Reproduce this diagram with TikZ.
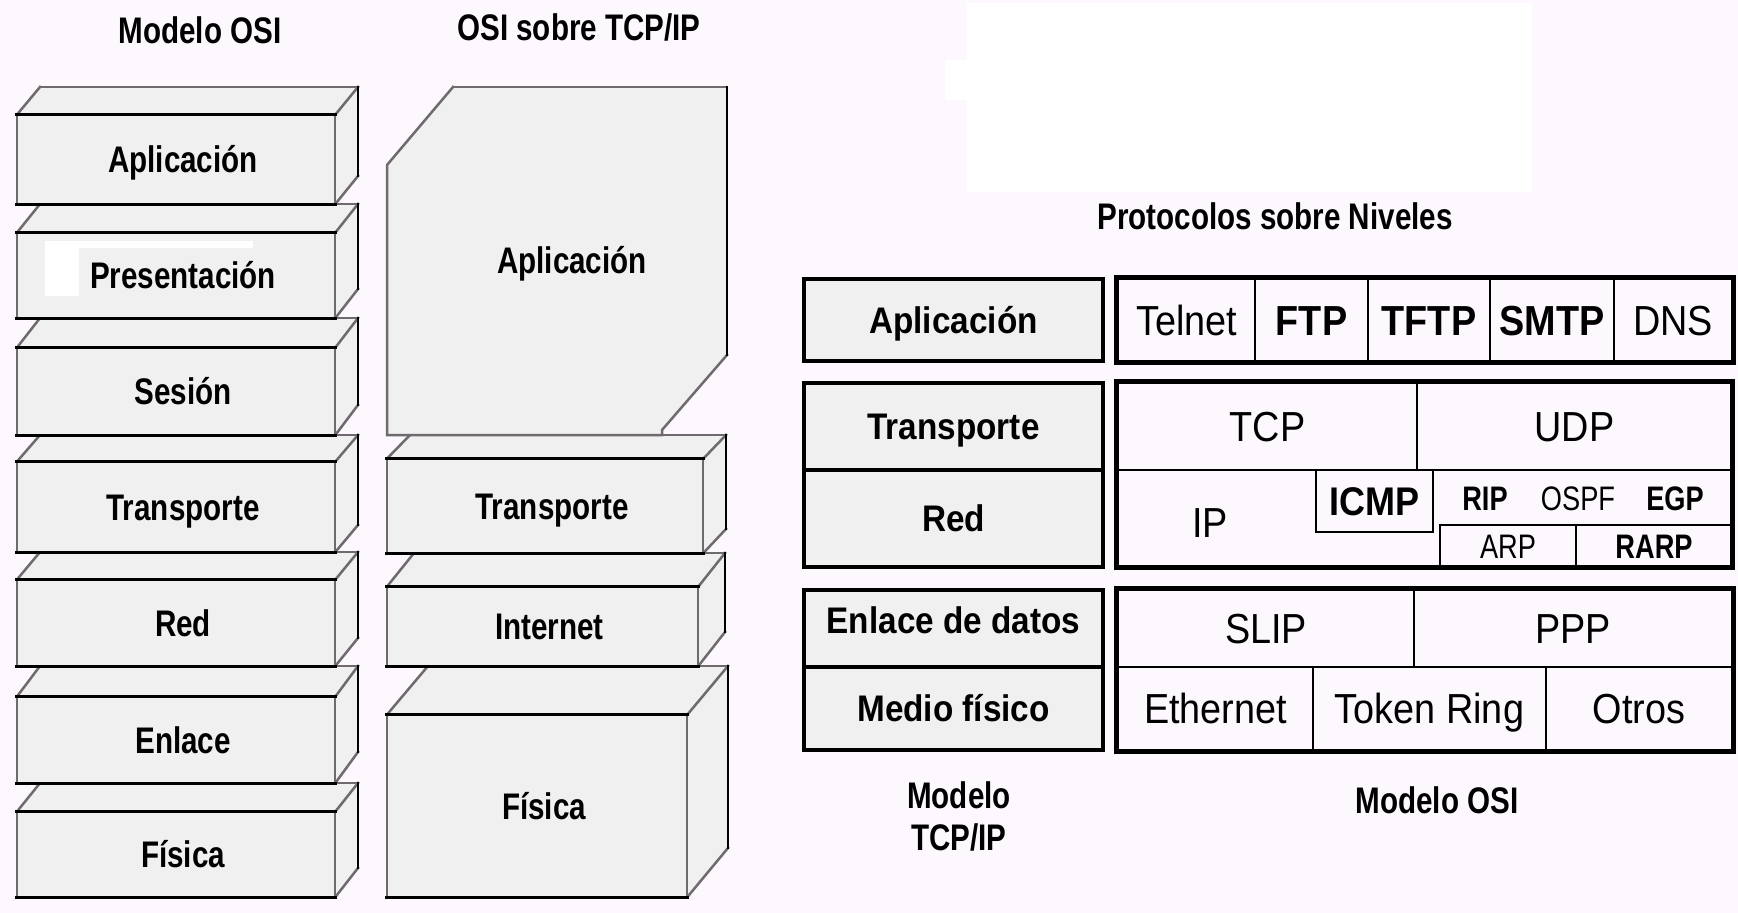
\documentclass[tikz,border=0pt]{standalone}
\usepackage{fontspec}
\setmainfont{Liberation Sans}
\newfontfamily\nb{Liberation Sans}[FakeStretch=0.8]
\newfontfamily\cnd{Liberation Sans}[FakeStretch=0.9]
\definecolor{bgc}{HTML}{FDF8FD}
\definecolor{lnc}{HTML}{6E6A6E}
\definecolor{fc}{HTML}{F0F0F0}
\tikzset{
  gl/.style={draw=lnc, line width=2.5pt, line cap=rect},
  bl/.style={draw=black, line width=2.8pt, line cap=rect},
  front/.style={fill=fc, inner sep=0pt, text height=26.5pt, text depth=0pt,
    font=\nb\bfseries\fontsize{37}{40}\selectfont},
  ttl/.style={inner sep=0pt, font=\nb\bfseries\fontsize{37}{42}\selectfont, align=center},
  lcell/.style={draw=black, fill=fc, line width=4.5pt, inner sep=0pt, text height=26.5pt, text depth=0pt,
    font=\cnd\bfseries\fontsize{37}{40}\selectfont},
  rcell/.style={draw=black, line width=2.6pt, inner sep=0pt, text height=30pt, text depth=0pt,
    font=\cnd\fontsize{42}{46}\selectfont},
  rtxt/.style={inner sep=0pt, text height=30pt, text depth=0pt, font=\cnd\fontsize{42}{46}\selectfont},
  stxt/.style={inner sep=0pt, text height=24.3pt, text depth=0pt, font=\nb\fontsize{34}{38}\selectfont},
  outer/.style={draw=black, line width=5pt},
}
% name, x1, x2, y back top, y front top, y bottom, depth dx, label
\newcommand\osibox[8]{%
  \fill[fc] (#2,#5) -- ({#2+#7},#4) -- ({#3+#7},#4) -- (#3,#5) -- cycle;
  \fill[fc] (#3,#5) -- ({#3+#7},#4) -- ({#3+#7},{#6-#5+#4}) -- (#3,#6) -- cycle;
  \pgfmathsetmacro\obw{#3-#2}\pgfmathsetmacro\obh{#6-#5}%
  \node[front, minimum width=\obw pt, minimum height=\obh pt] (#1) at ({(#2+#3)/2},{(#5+#6)/2}) {\hspace*{14pt}#8};
  \draw[gl] ({#2+#7},#4) -- ({#3+#7},#4);
  \draw[gl] (#1.north west) -- ({#2+#7},#4);
  \draw[gl] (#1.north east) -- ({#3+#7},#4);
  \draw[gl] (#1.south east) -- ({#3+#7},{#6-#5+#4});
  \draw[bl] ({#3+#7},#4) -- ({#3+#7},{#6-#5+#4});
  \draw[gl] (#1.north west) -- (#1.south west);
  \draw[gl] (#1.north east) -- (#1.south east);
  \draw[bl] (#1.north west) -- (#1.north east);
  \draw[bl] (#1.south west) -- (#1.south east);
}
% name, x1, y1, x2, y2, style, text
\newcommand\tcell[7]{%
  \pgfmathsetmacro\tcw{#4-#2}\pgfmathsetmacro\tch{#5-#3}%
  \node[#6, minimum width=\tcw pt, minimum height=\tch pt] (#1) at ({(#2+#4)/2},{(#3+#5)/2}) {#7};
}
\begin{document}
\begin{tikzpicture}[x=1pt,y=-1pt]
\useasboundingbox (0,0) rectangle (1738,913);
\fill[bgc] (0,0) rectangle (1738,913);
\fill[white] (967,3) rectangle (1532,192);
\fill[white] (945,60) rectangle (967,100);

% ---------- Modelo OSI (left) ----------
\node[ttl] (t1) at (200,30) {Modelo OSI};
\osibox{osiF}{17}{335}{783}{812}{897}{23}{Física}
\osibox{osiE}{17}{335}{666}{697}{783}{23}{Enlace}
\osibox{osiR}{17}{335}{552}{580}{666}{23}{Red}
\osibox{osiT}{17}{335}{435}{462}{552}{23}{Transporte}
\osibox{osiS}{17}{335}{318}{348}{435}{23}{Sesión}
\osibox{osiP}{17}{335}{204}{233}{318}{23}{Presentación}
\fill[white] (45,241) -- (253,241) -- (253,248) -- (79,248) -- (79,296) -- (45,296) -- cycle;
\osibox{osiA}{17}{335}{87}{115}{204}{23}{Aplicación}

% ---------- OSI sobre TCP/IP (middle) ----------
\node[ttl] (t2) at (579,27) {OSI sobre TCP/IP};
\osibox{tcpF}{387}{687}{666}{715}{897}{41}{Física}
\osibox{tcpI}{387}{698}{553}{587}{666}{27}{Internet}
\osibox{tcpT}{387}{703}{435}{459}{553}{23}{Transporte}
\fill[fc] (453,87) -- (727,87) -- (727,355) -- (662,430) -- (662,435) -- (387,435) -- (387,165) -- cycle;
\draw[gl] (453,87) -- (727,87);
\draw[gl] (727,355) -- (662,430) -- (662,435) -- (387,435) -- (387,165) -- (453,87);
\draw[bl] (727,87) -- (727,355);
\node[front, fill=none] (tcpA) at (572,260) {Aplicación};

% ---------- Protocolos sobre Niveles (right) ----------
\node[ttl] (t3) at (1275,216) {Protocolos sobre Niveles};

% left column (TCP/IP levels)
\tcell{lapl}{804}{279}{1103}{361}{lcell}{Aplicación}
\tcell{ltra}{804}{383}{1103}{470}{lcell}{Transporte}
\tcell{lred}{804}{470}{1103}{567}{lcell}{Red}
\tcell{lenl}{804}{590}{1103}{667}{lcell}{\raisebox{8pt}{Enlace de datos}}
\tcell{lmed}{804}{667}{1103}{750}{lcell}{Medio físico}

% row 1
\tcell{telnet}{1118}{279}{1255}{361}{rcell}{Telnet}
\tcell{ftp}{1255}{279}{1368}{361}{rcell}{\bfseries FTP}
\tcell{tftp}{1368}{279}{1490}{361}{rcell}{\bfseries TFTP}
\tcell{smtp}{1490}{279}{1614}{361}{rcell}{\bfseries SMTP}
\tcell{dns}{1614}{279}{1732}{361}{rcell}{DNS}
\draw[outer] (telnet.north west) rectangle (dns.south east);

% row 2
\tcell{tcp}{1118}{383}{1417}{470}{rcell}{TCP}
\tcell{udp}{1417}{383}{1732}{470}{rcell}{UDP}
\tcell{icmp}{1316}{470}{1433}{532}{rcell, text height=28.6pt}{\bfseries\fontsize{40}{44}\selectfont ICMP}
\tcell{arp}{1440}{525}{1576}{567}{rcell, text height=24.3pt}{\nb\fontsize{34}{38}\selectfont ARP}
\tcell{rarp}{1576}{525}{1732}{567}{rcell, text height=24.3pt}{\nb\bfseries\fontsize{34}{38}\selectfont RARP}
\coordinate (r2se) at (1732,567);
\draw[outer] (tcp.north west) rectangle (r2se);
\node[rtxt] (ip) at (1210,522) {IP};
\node[stxt, font=\nb\bfseries\fontsize{34}{38}\selectfont] (rip) at (1485,498) {RIP};
\node[stxt] (ospf) at (1578,498) {OSPF};
\node[stxt, font=\nb\bfseries\fontsize{34}{38}\selectfont] (egp) at (1675,498) {EGP};

% row 3
\tcell{slip}{1118}{590}{1414}{667}{rcell}{SLIP}
\tcell{ppp}{1414}{590}{1732}{667}{rcell}{PPP}
\tcell{eth}{1118}{667}{1313}{750}{rcell}{Ethernet}
\tcell{tok}{1313}{667}{1546}{750}{rcell}{Token Ring}
\tcell{otr}{1546}{667}{1732}{750}{rcell}{Otros}
\draw[outer] (slip.north west) rectangle (otr.south east);

% captions
\node[ttl] (mtcp) at (959,816) {Modelo\\TCP/IP};
\node[ttl] (mosi) at (1437,800) {Modelo OSI};
\end{tikzpicture}
\end{document}
